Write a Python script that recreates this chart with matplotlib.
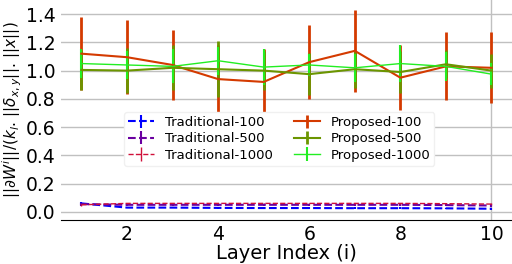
import numpy as np
import matplotlib
matplotlib.use('Agg')
import matplotlib.pyplot as plt

layers = np.arange(1, 11)

# traditional (dashed, near zero)
trad_100 = [0.06, 0.03, 0.03, 0.028, 0.027, 0.027, 0.026, 0.026, 0.025, 0.022]
trad_500 = [0.055, 0.05, 0.05, 0.05, 0.05, 0.05, 0.05, 0.05, 0.048, 0.045]
trad_1000 = [0.05, 0.06, 0.06, 0.06, 0.06, 0.06, 0.06, 0.06, 0.058, 0.055]
trad_err = [0.01, 0.005, 0.005, 0.005, 0.005, 0.005, 0.005, 0.005, 0.005, 0.008]

# proposed
prop_100 = [1.12, 1.095, 1.04, 0.94, 0.92, 1.06, 1.14, 0.95, 1.03, 1.02]
prop_100_err = [0.26, 0.26, 0.25, 0.24, 0.23, 0.26, 0.29, 0.23, 0.24, 0.25]
prop_500 = [1.005, 1.0, 1.02, 1.01, 1.0, 0.975, 1.01, 0.99, 1.045, 1.0]
prop_500_err = [0.14, 0.16, 0.16, 0.2, 0.14, 0.15, 0.13, 0.15, 0.1, 0.12]
prop_1000 = [1.05, 1.04, 1.03, 1.07, 1.025, 1.04, 1.02, 1.05, 1.03, 0.975]
prop_1000_err = [0.1, 0.1, 0.12, 0.1, 0.13, 0.08, 0.1, 0.13, 0.1, 0.08]

fig = plt.figure(figsize=(5.12, 2.64), dpi=100)
ax = fig.add_axes([0.119, 0.167, 0.881, 0.833])

ax.errorbar(layers, trad_100, yerr=trad_err, color='#0000ff', ls='--', lw=1.5,
            label='Traditional-100')
ax.errorbar(layers, trad_500, yerr=trad_err, color='#6a00a0', ls='--', lw=1.5,
            label='Traditional-500')
ax.errorbar(layers, trad_1000, yerr=trad_err, color='#d0103a', ls='--', lw=1.0,
            label='Traditional-1000')
ax.errorbar(layers, prop_100, yerr=prop_100_err, color='#d43a00', lw=1.5,
            elinewidth=2, label='Proposed-100')
ax.errorbar(layers, prop_500, yerr=prop_500_err, color='#6b9500', lw=1.5,
            elinewidth=2, label='Proposed-500')
ax.errorbar(layers, prop_1000, yerr=prop_1000_err, color='#22ee22', lw=1.0,
            elinewidth=1.5, label='Proposed-1000')

ax.set_xlim(0.55, 10.45)
ax.set_ylim(-0.057, 1.5)
ax.set_yticks([0.0, 0.2, 0.4, 0.6, 0.8, 1.0, 1.2, 1.4])
ax.set_xticks([2, 4, 6, 8, 10])
ax.grid(axis='y', color='#c0c0c0', lw=1)
ax.axvline(10, color='#c0c0c0', lw=1, zorder=0)
ax.set_axisbelow(True)
for s in ['left', 'right', 'top']:
    ax.spines[s].set_visible(False)
ax.tick_params(length=0, labelsize=13.5, pad=4)
ax.set_xlabel('Layer Index (i)', fontsize=14, labelpad=0)
ax.set_ylabel(r'$||\partial W^i||/(k_l.\,||\delta_{x,y}||.\,||x||)$', fontsize=11,
              labelpad=1)

ax.legend(ncol=2, loc='upper left', bbox_to_anchor=(0.125, 0.52), fontsize=9.5,
          frameon=True, edgecolor='#f0f0f0', framealpha=1, borderpad=0.3,
          labelspacing=0.25, columnspacing=1.6, handlelength=2)

plt.savefig('out.png', dpi=100)
